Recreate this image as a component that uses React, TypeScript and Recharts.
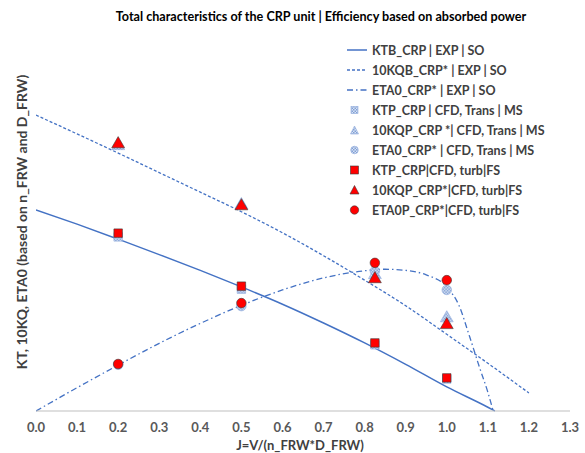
import { ComposedChart, Line, Scatter, XAxis, YAxis, ZAxis, Legend } from 'recharts';

// experimental curves (open water, J = advance ratio)
const ktbJ = [0, 0.1, 0.2, 0.3, 0.4, 0.5, 0.6, 0.7, 0.8, 0.9, 1.0, 1.1, 1.117];
const ktbVal = [0.535, 0.497, 0.457, 0.416, 0.374, 0.33, 0.284, 0.234, 0.181, 0.124, 0.064, 0.01, 0];

const kqbJ = [0, 0.1, 0.2, 0.3, 0.4, 0.5, 0.6, 0.7, 0.8, 0.9, 1.0, 1.1, 1.2];
const kqbVal = [0.787, 0.737, 0.686, 0.634, 0.582, 0.53, 0.474, 0.413, 0.348, 0.28, 0.204, 0.127, 0.048];

const etaJ = [0, 0.1, 0.2, 0.3, 0.4, 0.5, 0.6, 0.7, 0.8, 0.85, 0.9, 0.95, 1.0, 1.03, 1.055, 1.08, 1.1, 1.113];
const etaVal = [0, 0.062, 0.122, 0.18, 0.233, 0.281, 0.322, 0.354, 0.373, 0.377, 0.374, 0.362, 0.33, 0.28, 0.2, 0.115, 0.05, 0];

// CFD points
const msJ = [0.2, 0.5, 0.825, 1.0];
const ktpMs = [0.463, 0.324, 0.176, 0.085];
const kqpMs = [0.705, 0.548, 0.362, 0.247];
const etaMs = [0.123, 0.279, 0.372, 0.322];

const fsJ = [0.2, 0.5, 0.825, 1.0];
const ktpFs = [0.473, 0.332, 0.181, 0.088];
const kqpFs = [0.71, 0.545, 0.351, 0.229];
const etaFs = [0.125, 0.287, 0.394, 0.348];

const xTicks = [0, 0.1, 0.2, 0.3, 0.4, 0.5, 0.6, 0.7, 0.8, 0.9, 1.0, 1.1, 1.2, 1.3];

const names = [
  'KTB_CRP | EXP | SO',
  '10KQB_CRP* | EXP | SO',
  'ETA0_CRP* | EXP | SO',
  'KTP_CRP | CFD, Trans | MS',
  '10KQP_CRP *| CFD, Trans | MS',
  'ETA0_CRP* | CFD, Trans | MS',
  'KTP_CRP|CFD, turb|FS',
  '10KQP_CRP*|CFD, turb|FS',
  'ETA0P_CRP*|CFD, turb|FS',
];

const pts = (xs: number[], ys: number[]) => xs.map((j, i) => ({ j, v: ys[i] }));

const BLUE = '#4472c4';
const RED = '#ff0000';
const GRID = '#bfbfbf';
const FONT = 'Lato, "Open Sans", sans-serif';
const KQ_DASH = '3 2';
const ETA_DASH = '6 3 1.5 3';

const icons = ['solid', 'dot', 'dashdot', 'msSq', 'msTri', 'msCirc', 'sq', 'tri', 'circ'];

function LegendIcon({ kind }: { kind: string }) {
  const line = (dash?: string) => (
    <line x1={0} y1={7} x2={20} y2={7} stroke={BLUE} strokeWidth={1.5} strokeDasharray={dash} />
  );
  const ms = { fill: 'url(#hatch)', stroke: '#8faadc', strokeWidth: 0.6 };
  const fs = { fill: RED, stroke: '#3a3a3a', strokeWidth: 0.6 };
  let el = null;
  if (kind === 'solid') el = line();
  if (kind === 'dot') el = line(KQ_DASH);
  if (kind === 'dashdot') el = line(ETA_DASH);
  if (kind === 'msSq') el = <rect x={4} y={3.5} width={7} height={7} {...ms} />;
  if (kind === 'msTri') el = <polygon points="7.5,3 11.5,11 3.5,11" {...ms} />;
  if (kind === 'msCirc') el = <circle cx={7.5} cy={7} r={3.8} {...ms} />;
  if (kind === 'sq') el = <rect x={3.5} y={3} width={8} height={8} {...fs} />;
  if (kind === 'tri') el = <polygon points="7.5,2.5 12,11 3,11" {...fs} />;
  if (kind === 'circ') el = <circle cx={7.5} cy={7} r={4.2} {...fs} />;
  return (
    <svg width={22} height={14} style={{ display: 'block', marginRight: 3 }}>
      {el}
    </svg>
  );
}

function ChartLegend() {
  return (
    <div style={{ fontFamily: FONT, fontSize: 12.5, fontWeight: 700, color: '#404040' }}>
      {names.map((n, i) => (
        <div key={n} style={{ display: 'flex', alignItems: 'center', height: 20, whiteSpace: 'nowrap' }}>
          <LegendIcon kind={icons[i]} />
          <span>{n}</span>
        </div>
      ))}
    </div>
  );
}

export default function App() {
  return (
    <div style={{ position: 'absolute', left: 0, top: 0, width: 585, height: 453, background: '#fff' }}>
      <ComposedChart width={585} height={453} margin={{ top: 35, right: 15, bottom: 0, left: 36 }}>
        <defs>
          <pattern id="hatch" width={3} height={3} patternUnits="userSpaceOnUse">
            <rect width={3} height={3} fill="#dae3f3" />
            <rect width={1.5} height={1.5} fill="#7f9fd6" />
            <rect x={1.5} y={1.5} width={1.5} height={1.5} fill="#7f9fd6" />
          </pattern>
        </defs>
        <XAxis
          dataKey="j"
          type="number"
          domain={[0, 1.3]}
          ticks={xTicks}
          tickFormatter={(v: number) => v.toFixed(1)}
          axisLine={{ stroke: GRID }}
          tickLine={false}
          tickMargin={6}
          tick={{ fill: '#595959', fontSize: 13, fontWeight: 700, fontFamily: FONT }}
          height={42}
          allowDataOverflow
        />
        <XAxis xAxisId="top" orientation="top" type="number" domain={[0, 1.3]} tick={false} axisLine={{ stroke: GRID }} tickLine={false} height={0} />
        <YAxis dataKey="v" type="number" domain={[0, 1]} tick={false} axisLine={{ stroke: GRID }} tickLine={false} width={0} />
        <YAxis yAxisId="right" orientation="right" type="number" domain={[0, 1]} tick={false} axisLine={{ stroke: GRID }} tickLine={false} width={0} />
        <ZAxis range={[72, 72]} />

        <Line data={pts(ktbJ, ktbVal)} dataKey="v" type="monotone" stroke={BLUE} strokeWidth={1.5} dot={false} isAnimationActive={false} name={names[0]} />
        <Line data={pts(kqbJ, kqbVal)} dataKey="v" type="monotone" stroke={BLUE} strokeWidth={1.3} strokeDasharray={KQ_DASH} dot={false} isAnimationActive={false} name={names[1]} />
        <Line data={pts(etaJ, etaVal)} dataKey="v" type="monotone" stroke={BLUE} strokeWidth={1.3} strokeDasharray={ETA_DASH} dot={false} isAnimationActive={false} name={names[2]} />

        <Scatter data={pts(msJ, ktpMs)} dataKey="v" shape="square" fill="url(#hatch)" stroke="#8faadc" strokeWidth={0.6} isAnimationActive={false} name={names[3]} />
        <Scatter data={pts(msJ, kqpMs)} dataKey="v" shape="triangle" fill="url(#hatch)" stroke="#8faadc" strokeWidth={0.6} isAnimationActive={false} name={names[4]} />
        <Scatter data={pts(msJ, etaMs)} dataKey="v" shape="circle" fill="url(#hatch)" stroke="#8faadc" strokeWidth={0.6} isAnimationActive={false} name={names[5]} />

        <Scatter data={pts(fsJ, ktpFs)} dataKey="v" shape="square" fill={RED} stroke="#3a3a3a" strokeWidth={0.6} isAnimationActive={false} name={names[6]} />
        <Scatter data={pts(fsJ, kqpFs)} dataKey="v" shape="triangle" fill={RED} stroke="#3a3a3a" strokeWidth={0.6} isAnimationActive={false} name={names[7]} />
        <Scatter data={pts(fsJ, etaFs)} dataKey="v" shape="circle" fill={RED} stroke="#3a3a3a" strokeWidth={0.6} isAnimationActive={false} name={names[8]} />

        <Legend
          layout="horizontal"
          verticalAlign="middle"
          align="center"
          content={() => <ChartLegend />}
          wrapperStyle={{ top: 40, left: 347, width: 230, height: 185 }}
        />

        <text x={321} y={21} textAnchor="middle" fontFamily={FONT} fontSize={12.6} fontWeight={700} fill="#000">
          Total characteristics of the CRP unit | Efficiency based on absorbed power
        </text>
        <text x={300} y={450} textAnchor="middle" fontFamily={FONT} fontSize={13} fontWeight={700} fill="#404040">
          J=V/(n_FRW*D_FRW)
        </text>
        <text
          x={21}
          y={222}
          transform="rotate(-90 21 222)"
          textAnchor="middle"
          dominantBaseline="central"
          fontFamily={FONT}
          fontSize={14}
          fontWeight={700}
          fill="#404040"
        >
          KT, 10KQ, ETA0 (based on n_FRW and D_FRW)
        </text>
      </ComposedChart>
    </div>
  );
}
